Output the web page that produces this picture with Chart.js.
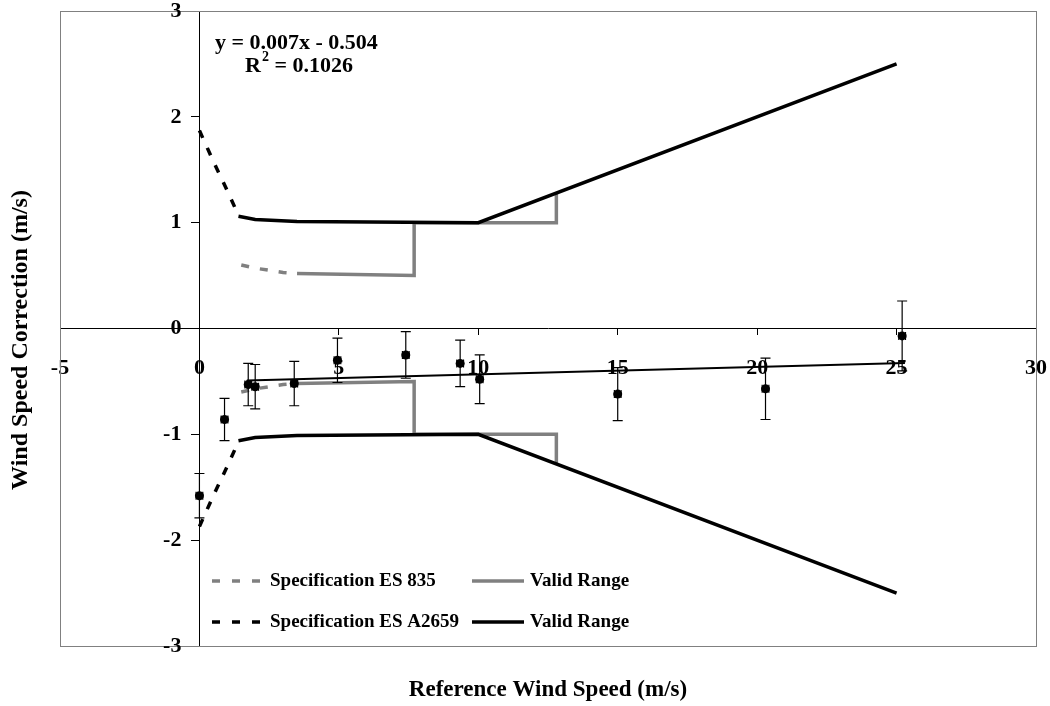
<!DOCTYPE html>
<html>
<head>
<meta charset="utf-8">
<script src="https://cdn.jsdelivr.net/npm/chart.js@4.4.1/dist/chart.umd.min.js"></script>
<style>
  html, body { margin: 0; padding: 0; background: #fff; }
  #wrap { width: 1050px; height: 706px; }
</style>
</head>
<body>
<div id="wrap"><canvas id="windChart" width="1050" height="706"></canvas></div>
<script>
// axis ticks
const xTicks = [-5, 0, 5, 10, 15, 20, 25, 30];
const yTicks = [-3, -2, -1, 0, 1, 2, 3];

// measured corrections with error bars
const measX    = [0, 0.9, 1.75, 2.0, 3.4, 4.95, 7.4, 9.35, 10.05, 15.0, 20.3, 25.2];
const measY    = [-1.58, -0.86, -0.53, -0.55, -0.52, -0.30, -0.25, -0.33, -0.48, -0.62, -0.57, -0.07];
const measYErr = [0.21, 0.2, 0.2, 0.21, 0.21, 0.21, 0.22, 0.22, 0.23, 0.25, 0.29, 0.33];
const measXErr = [0.12, 0.12, 0.12, 0.12, 0.12, 0.12, 0.12, 0.12, 0.12, 0.12, 0.12, 0.12];

// linear fit  y = 0.007x - 0.504
const trendX = [1.7, 25.3];
const trendY = [-0.492, -0.327];

// Specification ES 835 (outside valid range, dashed)
const es835X = [1.5, 2, 2.5, 3, 3.5];
const es835Y = [0.6, 0.57, 0.55, 0.53, 0.52];
// ES 835 valid range
const es835ValidX = [3.5, 7.7, 7.7, 12.8, 12.8];
const es835ValidY = [0.52, 0.5, 1.0, 1.0, 1.28];

// Specification ES A2659 (outside valid range, dashed)
const a2659X = [0, 0.5, 1, 1.4];
const a2659Y = [1.87, 1.58, 1.3, 1.07];
// ES A2659 valid range
const a2659ValidX = [1.4, 2, 3.5, 10, 25];
const a2659ValidY = [1.06, 1.03, 1.01, 1.0, 2.5];

const GRAY = '#808080';
const FONT = '"Liberation Serif", "Times New Roman", serif';

function pts(xs, ys, sign) {
  return xs.map((x, i) => ({ x: x, y: sign * ys[i] }));
}

function lineSet(xs, ys, sign, color, dashed) {
  return {
    type: 'scatter',
    data: pts(xs, ys, sign),
    showLine: true,
    borderColor: color,
    backgroundColor: color,
    borderWidth: 3.5,
    borderDash: dashed ? [8, 11] : [],
    pointRadius: 0,
    tension: 0
  };
}

function noPad(s) {
  s.paddingLeft = 0; s.paddingRight = 0; s.paddingTop = 0; s.paddingBottom = 0;
}

// error bars for the measured points
const errorBars = {
  id: 'errorBars',
  afterDatasetsDraw(chart) {
    const ctx = chart.ctx;
    const xs = chart.scales.x, ys = chart.scales.y;
    ctx.save();
    ctx.strokeStyle = '#000';
    ctx.lineWidth = 1.2;
    measX.forEach((v, i) => {
      const px = xs.getPixelForValue(v);
      const py = ys.getPixelForValue(measY[i]);
      const top = ys.getPixelForValue(measY[i] + measYErr[i]);
      const bot = ys.getPixelForValue(measY[i] - measYErr[i]);
      const lft = xs.getPixelForValue(v - measXErr[i]);
      const rgt = xs.getPixelForValue(v + measXErr[i]);
      ctx.beginPath();
      ctx.moveTo(px, top); ctx.lineTo(px, bot);
      ctx.moveTo(px - 5, top); ctx.lineTo(px + 5, top);
      ctx.moveTo(px - 5, bot); ctx.lineTo(px + 5, bot);
      ctx.moveTo(lft, py); ctx.lineTo(rgt, py);
      ctx.moveTo(lft, py - 4); ctx.lineTo(lft, py + 4);
      ctx.moveTo(rgt, py - 4); ctx.lineTo(rgt, py + 4);
      ctx.stroke();
    });
    ctx.restore();
  }
};

// plot frame, y tick labels, titles, equation, legend
const decorations = {
  id: 'decorations',
  beforeDatasetsDraw(chart) {
    const { ctx, chartArea: a } = chart;
    ctx.save();
    ctx.strokeStyle = GRAY;
    ctx.lineWidth = 1;
    ctx.strokeRect(a.left + 0.5, a.top + 0.5, a.right - a.left, a.bottom - a.top);

    // y tick labels, left of the crossing axis
    const ys = chart.scales.y, xs = chart.scales.x;
    const ax = xs.getPixelForValue(0);
    ctx.fillStyle = '#000';
    ctx.font = 'bold 22px ' + FONT;
    ctx.textAlign = 'right';
    ctx.textBaseline = 'middle';
    ys.ticks.forEach(t => {
      ctx.fillText(String(t.value), ax - 18, ys.getPixelForValue(t.value));
    });
    ctx.restore();
  },
  afterDraw(chart) {
    const { ctx, chartArea: a } = chart;
    ctx.save();
    ctx.fillStyle = '#000';
    ctx.textBaseline = 'middle';

    // axis titles
    ctx.font = 'bold 23px ' + FONT;
    ctx.textAlign = 'center';
    ctx.fillText('Reference Wind Speed (m/s)', (a.left + a.right) / 2, 690);
    ctx.save();
    ctx.translate(21, 340);
    ctx.rotate(-Math.PI / 2);
    ctx.font = 'bold 24px ' + FONT;
    ctx.fillText('Wind Speed Correction (m/s)', 0, 0);
    ctx.restore();

    // trendline equation
    ctx.textAlign = 'left';
    ctx.font = 'bold 22px ' + FONT;
    ctx.fillText('y = 0.007x - 0.504', 215, 43);
    ctx.fillText('R', 245, 66);
    const rw = ctx.measureText('R').width;
    ctx.font = 'bold 14px ' + FONT;
    ctx.fillText('2', 245 + rw + 1, 57);
    ctx.font = 'bold 22px ' + FONT;
    ctx.fillText(' = 0.1026', 245 + rw + 8, 66);

    // legend
    const rows = [
      { y: 581, color: GRAY, label: 'Specification ES 835' },
      { y: 622, color: '#000', label: 'Specification ES A2659' }
    ];
    ctx.font = 'bold 19px ' + FONT;
    rows.forEach(r => {
      ctx.strokeStyle = r.color;
      ctx.lineWidth = 3.5;
      ctx.setLineDash([8, 12]);
      ctx.beginPath(); ctx.moveTo(212, r.y); ctx.lineTo(264, r.y); ctx.stroke();
      ctx.setLineDash([]);
      ctx.beginPath(); ctx.moveTo(472, r.y); ctx.lineTo(524, r.y); ctx.stroke();
      ctx.fillText(r.label, 270, r.y);
      ctx.fillText('Valid Range', 530, r.y);
    });
    ctx.restore();
  }
};

const ctx = document.getElementById('windChart').getContext('2d');
const chart = new Chart(ctx, {
  type: 'scatter',
  data: {
    datasets: [
      {
        type: 'scatter',
        data: pts(measX, measY, 1),
        backgroundColor: '#000',
        borderColor: '#000',
        pointRadius: 4.5,
        pointBorderWidth: 0
      },
      {
        type: 'scatter',
        data: pts(trendX, trendY, 1),
        showLine: true,
        borderColor: '#000',
        borderWidth: 2,
        pointRadius: 0
      },
      lineSet(a2659ValidX, a2659ValidY, 1, '#000', false),
      lineSet(a2659ValidX, a2659ValidY, -1, '#000', false),
      lineSet(a2659X, a2659Y, 1, '#000', true),
      lineSet(a2659X, a2659Y, -1, '#000', true),
      lineSet(es835ValidX, es835ValidY, 1, GRAY, false),
      lineSet(es835ValidX, es835ValidY, -1, GRAY, false),
      lineSet(es835X, es835Y, 1, GRAY, true),
      lineSet(es835X, es835Y, -1, GRAY, true)
    ]
  },
  options: {
    responsive: false,
    animation: false,
    layout: { padding: { left: 60, top: 11, right: 14, bottom: 60 } },
    plugins: {
      legend: { display: false },
      tooltip: { enabled: false }
    },
    scales: {
      x: {
        type: 'linear',
        position: { y: 0 },
        min: -5,
        max: 30,
        afterBuildTicks: s => { s.ticks = xTicks.map(v => ({ value: v })); },
        afterFit: noPad,
        grid: { drawOnChartArea: false, drawTicks: true, tickLength: 6, color: '#000' },
        border: { color: '#000', width: 1 },
        ticks: {
          color: '#000',
          padding: 21,
          maxRotation: 0,
          autoSkip: false,
          font: { family: FONT, size: 22, weight: 'bold' }
        }
      },
      y: {
        type: 'linear',
        position: { x: 0 },
        min: -3,
        max: 3,
        afterBuildTicks: s => { s.ticks = yTicks.map(v => ({ value: v })); },
        afterFit: noPad,
        grid: { drawOnChartArea: false, drawTicks: true, tickLength: 8, color: '#000' },
        border: { color: '#000', width: 1 },
        ticks: {
          display: false,
          autoSkip: false
        }
      }
    }
  },
  plugins: [errorBars, decorations]
});
</script>
</body>
</html>
